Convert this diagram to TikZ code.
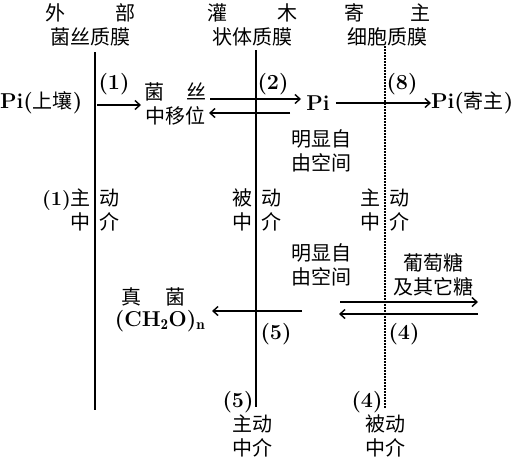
\documentclass[tikz,border=0pt]{standalone}
\usepackage{fontspec}
\newfontfamily\cjk{Noto Sans CJK SC}
\usetikzlibrary{arrows.meta}
\newcommand\C[1]{{\fontsize{20}{24}\selectfont\cjk\mdseries #1}}
\begin{document}
\begin{tikzpicture}[x=1pt,y=-1pt,
  txt/.style={inner sep=0pt,font=\fontsize{20}{24}\selectfont\cjk,align=center},
  lat/.style={inner sep=0pt,font=\fontsize{21.5}{24}\selectfont\bfseries},
  mem/.style={line width=1.8pt},
  memdot/.style={line width=1.8pt,dash pattern=on 1.6pt off 1.4pt},
  arr/.style={line width=1.4pt,-{Straight Barb[length=5pt,width=9pt,line width=1.4pt]}}]
\useasboundingbox (0,0) rectangle (526,461);
% membranes
\coordinate (m1t) at (95,52); \coordinate (m1b) at (95,410);
\coordinate (m2t) at (256,50); \coordinate (m2b) at (256,407);
\coordinate (m3t) at (385,46); \coordinate (m3b) at (385,408);
\draw[mem] (m1t) -- (m1b);
\draw[mem] (m2t) -- (m2b);
\draw[memdot] (m3t) -- (m3b);
% top labels
\node[txt] (h1) at (90,25) {\makebox[90pt]{外\hfill 部}\\菌丝质膜};
\node[txt] (h2) at (252,25) {\makebox[90pt]{灌\hfill 木}\\状体质膜};
\node[txt] (h3) at (387,25) {\makebox[86pt]{寄\hfill 主}\\细胞质膜};
% row 1
\node[lat,anchor=west] (pis) at (0,103) {Pi(\C{上壤})};
\node[lat] (l1) at (114,84) {(1)};
\node[txt] (jsy) at (175,104) {\makebox[62pt]{菌\hfill 丝}\\中移位};
\node[lat] (l2) at (273,84) {(2)};
\node[lat] (pi) at (318,103) {Pi};
\node[lat] (l8) at (402,84) {(8)};
\node[lat,anchor=west] (pih) at (431,103) {Pi(\C{寄主})};
\coordinate (a1s) at (97,105); \coordinate (a1e) at (141,105);
\draw[arr] (a1s) -- (a1e);
\coordinate (a2s) at (210,99); \coordinate (a2e) at (301,99);
\draw[arr] (a2s) -- (a2e);
\coordinate (a3s) at (290,113); \coordinate (a3e) at (209,113);
\draw[arr] (a3s) -- (a3e);
\draw[arr] (pi.east) ++(6,0) coordinate (a4s) -- (pih.west |- a4s);
% free space labels
\node[txt] (fs1) at (321,151) {明显自\\由空间};
\node[txt] (fs2) at (321,265) {明显自\\由空间};
% mechanism labels
\node[txt,anchor=east,align=right] (k1) at (91,210) {{\rmfamily\bfseries\fontsize{20}{24}\selectfont(1)}主\\中};
\node[txt,anchor=west,align=left] (k1b) at (99,210) {动\\介};
\node[txt,anchor=east,align=right] (k2) at (253,210) {被\\中};
\node[txt,anchor=west,align=left] (k2b) at (261,210) {动\\介};
\node[txt,anchor=east,align=right] (k3) at (381,210) {主\\中};
\node[txt,anchor=west,align=left] (k3b) at (389,210) {动\\介};
% sugars
\node[txt] (sug) at (433,275) {葡萄糖\\及其它糖};
\coordinate (b1s) at (340,302); \coordinate (b1e) at (478,302);
\draw[arr] (b1s) -- (b1e);
\coordinate (b2s) at (478,314); \coordinate (b2e) at (339,314);
\draw[arr] (b2s) -- (b2e);
% fungus
\node[txt] (zj) at (153,297) {\makebox[64pt]{真\hfill 菌}};
\node[lat] (ch) at (160,321) {(CH$_{\mathbf 2}$O)$_{\mathbf n}$};
\coordinate (c1s) at (302,311); \coordinate (c1e) at (212,311);
\draw[arr] (c1s) -- (c1e);
\node[lat] (l5) at (276,334) {(5)};
\node[lat] (l4) at (404,334) {(4)};
% bottom labels
\node[lat] (l5b) at (238,402) {(5)};
\node[txt] (bt1) at (252,436) {主动\\中介};
\node[lat] (l4b) at (367,402) {(4)};
\node[txt] (bt2) at (385,436) {被动\\中介};
\end{tikzpicture}
\end{document}
